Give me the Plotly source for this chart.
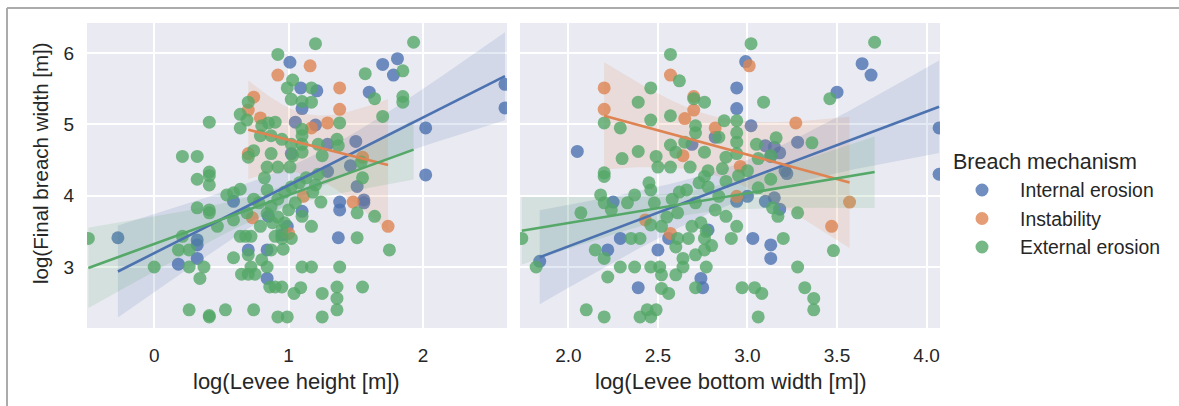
import numpy as np
import plotly.graph_objects as go

W, H = 1179, 406

mechanisms = ["Internal erosion", "Instability", "External erosion"]
colors = ["#4C72B0", "#DD8452", "#55A868"]

# ---- log(Levee height) vs log(Final breach width) ----
height_internal_x = [1.01, 1.70, 1.81, 1.78, 1.09, 1.21, 1.10, 1.60, 2.61, 2.61, 1.05, 1.20, 2.02,
                     1.50, 1.29, 1.02, 2.02, 1.46, -0.27, 0.32, 0.32, 0.18, 0.32, 0.59, 0.70, 0.84,
                     0.84, 0.99, 1.10, 1.38, 1.38, 1.37, 1.56, 1.56, 1.51, 1.29, 0.85, 0.95]
height_internal_y = [5.87, 5.84, 5.92, 5.69, 5.51, 5.47, 5.22, 5.45, 5.56, 5.23, 5.03, 4.99, 4.95,
                     4.76, 4.72, 4.59, 4.29, 4.42, 3.41, 3.38, 3.31, 3.04, 3.12, 3.92, 3.24, 3.24,
                     2.84, 3.57, 3.78, 3.91, 3.80, 3.41, 3.94, 3.90, 4.13, 4.34, 3.71, 3.45]

height_instab_x = [1.16, 0.92, 1.38, 0.74, 0.70, 1.38, 0.79, 1.29, 1.17, 0.70, 1.55, 1.48, 1.74,
                   0.73, 1.11, 1.00]
height_instab_y = [5.82, 5.69, 5.51, 5.38, 5.20, 5.21, 5.09, 5.02, 4.95, 4.59, 4.54, 3.91, 3.57,
                   3.69, 3.99, 3.47]

height_external_x = [1.20, 1.93, 0.92, 1.57, 1.85, 1.03, 0.99, 1.17, 1.02, 1.10, 1.17, 1.64, 1.85,
                     1.85, 0.70, 0.64, 0.69, 0.64, 0.41, 1.70, 1.38, 0.80, 0.85, 0.90, 1.10, 1.10,
                     0.87, 0.79, 0.95, 1.02, 1.10, 1.22, 1.36, 1.37, 0.74, 0.70, 0.87, 1.03, 1.10,
                     1.25, 0.21, 0.32, 0.84, 0.92, 1.01, 1.54, 0.41,
                     0.32, 0.41, 0.41, 0.54, 0.59, 0.64, 0.84, 0.32, 0.41, 0.41, 0.47, 0.59, 0.69,
                     0.79, 0.21, -0.49, 0.18, 0.26, 0.37, 0.34, 0.00, 0.26, 0.59, 0.64, 0.68, 0.72,
                     0.70, 0.72, 0.65, 0.70, 0.75, 0.80, 0.84, 0.87, 0.96, 0.90, 0.95, 1.02, 0.86,
                     0.90, 0.95, 1.10, 1.17, 1.38, 1.09, 1.04, 1.25, 1.36, 1.36, 1.36, 1.55, 0.26,
                     0.41, 0.41, 0.53, 0.74, 0.92, 0.99, 1.25, 1.17, 1.10, 1.24, 1.51, 1.51, 1.64,
                     1.75, 1.55,
                     0.87, 0.92, 0.97, 1.02, 1.08, 1.13, 1.18, 0.92, 0.97, 0.88, 1.00, 1.05, 0.78,
                     0.74, 0.84, 0.95, 1.20, 1.22, 0.82]
height_external_y = [6.13, 6.15, 5.98, 5.71, 5.75, 5.62, 5.51, 5.51, 5.35, 5.32, 5.31, 5.36, 5.39,
                     5.31, 5.31, 5.14, 5.06, 4.95, 5.03, 5.11, 5.02, 4.98, 5.02, 5.03, 4.93, 4.84,
                     4.84, 4.84, 4.79, 4.72, 4.72, 4.72, 4.79, 4.70, 4.63, 4.54, 4.59, 4.56, 4.61,
                     4.56, 4.55, 4.55, 4.40, 4.40, 4.40, 4.47, 4.33,
                     4.23, 4.28, 4.15, 4.01, 4.04, 4.09, 4.08, 3.83, 3.80, 3.76, 3.57, 3.66, 3.76,
                     3.57, 3.43, 3.40, 3.24, 3.24, 3.00, 2.84, 3.00, 3.00, 3.13, 3.43, 3.43, 3.43,
                     3.17, 3.00, 2.90, 2.90, 2.90, 3.10, 3.00, 3.24, 3.25, 3.43, 3.40, 3.40, 2.72,
                     2.72, 2.72, 3.00, 3.00, 3.00, 2.71, 2.63, 2.63, 2.72, 2.56, 2.40, 2.72, 2.40,
                     2.30, 2.32, 2.40, 2.40, 2.30, 2.30, 2.30, 3.57, 3.71, 3.91, 3.76, 3.41, 3.71,
                     3.24, 4.25,
                     3.85, 3.95, 4.05, 4.12, 4.18, 4.25, 4.05, 3.70, 3.62, 3.62, 3.80, 3.90, 3.90,
                     3.95, 3.75, 3.52, 4.15, 4.30, 4.25]

# ---- log(Levee bottom width) vs log(Final breach width) ----
width_internal_x = [2.99, 3.64, 3.69, 3.50, 2.94, 2.94, 3.02, 2.05, 4.07, 3.28, 3.10, 3.15, 3.18,
                    3.13, 2.82, 2.69, 3.21, 2.25, 2.29, 2.22, 2.39, 2.50, 2.56, 2.78, 2.74, 2.75,
                    2.94, 3.00, 3.10, 3.15, 3.18, 3.03, 3.13, 3.13, 1.84, 3.22, 4.07]
width_internal_y = [5.88, 5.85, 5.69, 5.45, 5.51, 5.22, 4.98, 4.62, 4.95, 4.75, 4.70, 4.68, 4.60,
                    4.55, 4.82, 4.72, 4.35, 3.91, 3.40, 3.24, 2.71, 3.24, 3.40, 3.52, 2.84, 2.71,
                    3.92, 3.99, 3.92, 3.97, 3.81, 3.40, 3.31, 3.12, 3.08, 4.31, 4.30]

width_instab_x = [3.01, 2.57, 2.20, 2.20, 2.70, 2.70, 2.65, 2.82, 3.27, 2.64, 2.96, 3.57, 3.47,
                  2.57, 2.43, 2.94]
width_instab_y = [5.82, 5.69, 5.51, 5.21, 5.39, 5.20, 5.08, 4.95, 5.02, 4.56, 4.41, 3.91, 3.57,
                  3.47, 3.66, 3.99]

width_external_x = [2.57, 3.02, 3.71, 2.62, 2.46, 2.70, 2.76, 2.39, 3.09, 3.46, 2.57, 2.46, 2.20,
                    2.29, 2.71, 2.71, 2.87, 2.94, 2.94, 2.94, 2.84, 2.57, 2.60, 2.39, 2.30, 2.49,
                    2.65, 2.76, 3.05, 3.16, 3.36, 2.88, 2.94, 3.06, 3.13, 2.68, 2.57, 2.50, 2.78,
                    2.86, 2.20,
                    2.20, 2.45, 2.46, 2.18, 2.37, 2.33, 2.20, 2.24, 2.07, 2.48, 2.66, 2.73, 2.76,
                    2.84, 2.71, 2.61, 2.82, 2.88, 2.94, 2.74, 2.69, 2.46, 2.52, 3.14, 3.17, 3.28,
                    3.06, 3.13, 2.91, 3.20, 3.48, 2.35, 2.40, 2.15, 2.20, 2.29, 2.37, 2.46, 2.51,
                    2.22, 2.52, 2.60, 2.64, 2.64, 2.71, 2.76, 2.77, 2.76, 2.67, 2.61, 2.52, 2.56,
                    2.71, 2.97, 3.04, 3.08, 3.28, 3.32, 3.37, 3.37, 2.10, 2.20, 2.40, 2.44, 2.49,
                    2.46, 3.06, 1.82, 1.74,
                    2.58, 2.62, 2.78, 2.88, 2.95, 2.55, 2.77, 2.80, 3.00, 2.60]
width_external_y = [5.98, 6.13, 6.15, 5.61, 5.51, 5.36, 5.31, 5.31, 5.31, 5.36, 5.12, 5.06, 5.02,
                    4.95, 4.98, 4.88, 5.05, 5.05, 4.88, 4.75, 4.82, 4.71, 4.61, 4.62, 4.52, 4.55,
                    4.75, 4.61, 4.72, 4.81, 4.74, 4.54, 4.59, 4.52, 4.56, 4.40, 4.40, 4.40, 4.35,
                    4.38, 4.32,
                    4.27, 4.18, 4.08, 4.01, 4.01, 3.90, 3.90, 3.80, 3.76, 3.90, 4.08, 4.18, 4.27,
                    3.99, 3.90, 3.76, 3.80, 3.71, 3.57, 3.62, 3.57, 3.59, 3.57, 3.83, 3.71, 3.76,
                    4.11, 4.23, 3.40, 3.40, 3.23, 3.40, 3.40, 3.24, 3.12, 3.00, 3.00, 3.00, 3.00,
                    2.86, 2.89, 2.89, 3.00, 3.12, 3.17, 3.24, 3.00, 3.40, 3.40, 3.40, 2.70, 2.63,
                    2.71, 2.71, 2.71, 2.63, 3.00, 2.71, 2.56, 2.40, 2.40, 2.30, 2.30, 2.40, 2.40,
                    2.30, 2.30, 3.00, 3.40,
                    3.95, 4.05, 4.12, 4.20, 4.28, 3.70, 3.50, 3.30, 4.35, 3.28]

height_groups = [(height_internal_x, height_internal_y),
                 (height_instab_x, height_instab_y),
                 (height_external_x, height_external_y)]
width_groups = [(width_internal_x, width_internal_y),
                (width_instab_x, width_instab_y),
                (width_external_x, width_external_y)]

height_ticks = [0, 1, 2]
width_ticks = [2.0, 2.5, 3.0, 3.5, 4.0]
y_ticks = [3, 4, 5, 6]


def rgba(hex_color, alpha):
    h = hex_color.lstrip("#")
    r, g, b = (int(h[i:i + 2], 16) for i in (0, 2, 4))
    return f"rgba({r},{g},{b},{alpha})"


def linear_fit(x, y, n_grid=100):
    """Least-squares line over the data range with a 95% confidence band."""
    x = np.asarray(x, float)
    y = np.asarray(y, float)
    n = len(x)
    b1, b0 = np.polyfit(x, y, 1)
    grid = np.linspace(x.min(), x.max(), n_grid)
    fit = b0 + b1 * grid
    resid = y - (b0 + b1 * x)
    s = np.sqrt(np.sum(resid ** 2) / (n - 2))
    sxx = np.sum((x - x.mean()) ** 2)
    df = n - 2
    t = 1.96 + 2.37 / df + 2.82 / df ** 2
    half = t * s * np.sqrt(1.0 / n + (grid - x.mean()) ** 2 / sxx)
    return grid, fit, fit - half, fit + half


fig = go.Figure()

# panel geometry in pixels
px_left = [(87, 507), (520, 940)]
py_top, py_bot = 23, 328
x_ranges = [[-0.50, 2.625], [1.73, 4.075]]
y_range = [2.145, 6.42]

axes = [("x", "y"), ("x2", "y2")]
line_traces = []
for p, groups in enumerate([height_groups, width_groups]):
    xa, ya = axes[p]
    for g, (gx, gy) in enumerate(groups):
        fig.add_trace(go.Scatter(
            x=gx, y=gy, mode="markers", xaxis=xa, yaxis=ya,
            name=mechanisms[g], showlegend=False,
            marker=dict(size=13, color=colors[g], opacity=0.8, line=dict(width=0)),
            hoverinfo="skip"))
        grid, fit, lo, hi = linear_fit(gx, gy)
        fig.add_trace(go.Scatter(
            x=np.concatenate([grid, grid[::-1]]), y=np.concatenate([hi, lo[::-1]]),
            mode="lines", fill="toself", fillcolor=rgba(colors[g], 0.15),
            line=dict(width=0), xaxis=xa, yaxis=ya, showlegend=False, hoverinfo="skip"))
        line_traces.append(go.Scatter(
            x=grid, y=fit, mode="lines", line=dict(color=colors[g], width=2.6),
            xaxis=xa, yaxis=ya, showlegend=False, hoverinfo="skip"))

# regression lines sit above all markers and bands
for tr in line_traces:
    fig.add_trace(tr)

font_family = "Liberation Sans, Arial, sans-serif"
text_color = "#262626"

common_axis = dict(showgrid=True, gridcolor="white", gridwidth=1.6, zeroline=False,
                   showline=False, ticks="", tickfont=dict(size=19, color=text_color,
                                                           family=font_family))

# legend drawn as paper-positioned markers and labels
legend_left, legend_title_y = 951, 162
legend_marker_x, legend_text_x = 982, 1018
legend_rows_y = [190, 218.5, 247]

annotations = [
    dict(text="log(Levee height [m])", x=297 / W, y=1 - 381 / H, xref="paper",
         yref="paper", showarrow=False, xanchor="center", yanchor="middle",
         font=dict(size=22, color=text_color)),
    dict(text="log(Levee bottom width [m])", x=730 / W, y=1 - 381 / H, xref="paper",
         yref="paper", showarrow=False, xanchor="center", yanchor="middle",
         font=dict(size=22, color=text_color)),
    dict(text="log(Final breach width [m])", x=40 / W, y=1 - 163 / H, xref="paper",
         yref="paper", showarrow=False, xanchor="center", yanchor="middle",
         textangle=-90, font=dict(size=20.5, color=text_color)),
    dict(text="Breach mechanism", x=legend_left / W, y=1 - legend_title_y / H, xref="paper",
         yref="paper", showarrow=False, xanchor="left", yanchor="middle",
         font=dict(size=21.5, color=text_color)),
]
shapes = [
    dict(type="line", xref="paper", yref="paper", x0=7 / W, x1=1, y0=1 - 8 / H,
         y1=1 - 8 / H, line=dict(color="#ABABAB", width=2)),
    dict(type="line", xref="paper", yref="paper", x0=7 / W, x1=7 / W, y0=0,
         y1=1 - 8 / H, line=dict(color="#ABABAB", width=2)),
]
r = 6.5
for name, color, ry in zip(mechanisms, colors, legend_rows_y):
    annotations.append(dict(text=name, x=legend_text_x / W, y=1 - ry / H, xref="paper",
                            yref="paper", showarrow=False, xanchor="left", yanchor="middle",
                            font=dict(size=19.4, color=text_color)))
    shapes.append(dict(type="circle", xref="paper", yref="paper",
                       x0=(legend_marker_x - r) / W, x1=(legend_marker_x + r) / W,
                       y0=1 - (ry + r) / H, y1=1 - (ry - r) / H,
                       fillcolor=color, opacity=0.8, line=dict(width=0)))

fig.update_layout(
    width=W, height=H,
    margin=dict(l=0, r=0, t=0, b=0),
    paper_bgcolor="white",
    plot_bgcolor="#EAEAF2",
    font=dict(family=font_family, color=text_color),
    showlegend=False,
    xaxis=dict(domain=[px_left[0][0] / W, px_left[0][1] / W], range=x_ranges[0],
               tickvals=height_ticks, ticktext=[str(v) for v in height_ticks],
               anchor="y", ticklabelstandoff=14, **common_axis),
    xaxis2=dict(domain=[px_left[1][0] / W, px_left[1][1] / W], range=x_ranges[1],
                tickvals=width_ticks, ticktext=[f"{v:.1f}" for v in width_ticks],
                anchor="y2", ticklabelstandoff=14, **common_axis),
    yaxis=dict(domain=[1 - py_bot / H, 1 - py_top / H], range=y_range, tickvals=y_ticks,
               anchor="x", ticklabelstandoff=12, **common_axis),
    yaxis2=dict(domain=[1 - py_bot / H, 1 - py_top / H], range=y_range, tickvals=y_ticks,
                showticklabels=False, anchor="x2", matches="y", **common_axis),
    annotations=annotations,
    shapes=shapes,
)

fig.write_html("out.html")
